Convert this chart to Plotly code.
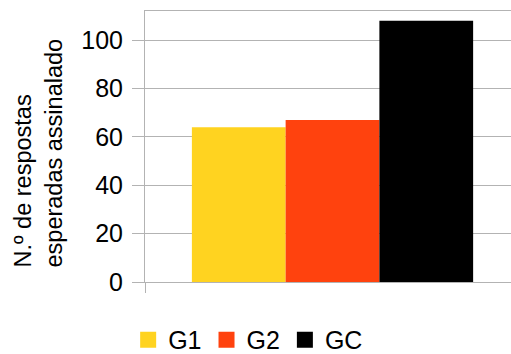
import plotly.graph_objects as go

groups = ["G1", "G2", "GC"]
values = [64, 67, 108]
colors = ["#ffd320", "#ff420e", "#000000"]
y_ticks = [0, 20, 40, 60, 80, 100]
y_title = "N.º de respostas<br>esperadas assinalado"

fig = go.Figure()
for name, val, col in zip(groups, values, colors):
    fig.add_trace(go.Bar(
        x=[0], y=[val], name=name, showlegend=False,
        marker=dict(color=col, line=dict(width=0)),
    ))
# legend keys: plain square markers
for name, col in zip(groups, colors):
    fig.add_trace(go.Scatter(
        x=[None], y=[None], name=name, mode="markers",
        marker=dict(symbol="square", size=16, color=col, line=dict(width=0)),
    ))

font = dict(family="Liberation Sans, Arial, sans-serif", size=24, color="#000000")

fig.update_layout(
    width=511, height=354,
    margin=dict(l=145, r=0, t=11, b=72, autoexpand=False),
    paper_bgcolor="white", plot_bgcolor="white",
    barmode="group", bargap=0.25, bargroupgap=0,
    font=font,
    showlegend=True,
    legend=dict(
        orientation="h", x=-0.046, xanchor="left", y=-0.214, yanchor="middle",
        font=dict(size=25), itemwidth=30, tracegroupgap=0,
        itemsizing="trace",
    ),
    xaxis=dict(
        range=[-0.5, 0.476], tickvals=[-0.5], ticktext=[""],
        ticks="outside", ticklen=10, tickcolor="#b3b3b3",
        showline=True, linecolor="#b3b3b3", mirror=True,
        showgrid=False, zeroline=False, fixedrange=True,
    ),
    yaxis=dict(
        range=[0, 112], tickvals=y_ticks,
        ticks="outside", ticklen=12, tickcolor="#b3b3b3",
        showline=True, linecolor="#b3b3b3",
        gridcolor="#b3b3b3", zeroline=False,
        tickfont=dict(size=25), ticklabelstandoff=4,
    ),
    annotations=[dict(
        text=y_title, textangle=-90, align="left",
        xref="paper", yref="paper", x=-0.291, y=0.476,
        xanchor="center", yanchor="middle", showarrow=False,
        font=dict(size=23.5),
    )],
)

fig.write_html("out.html")
